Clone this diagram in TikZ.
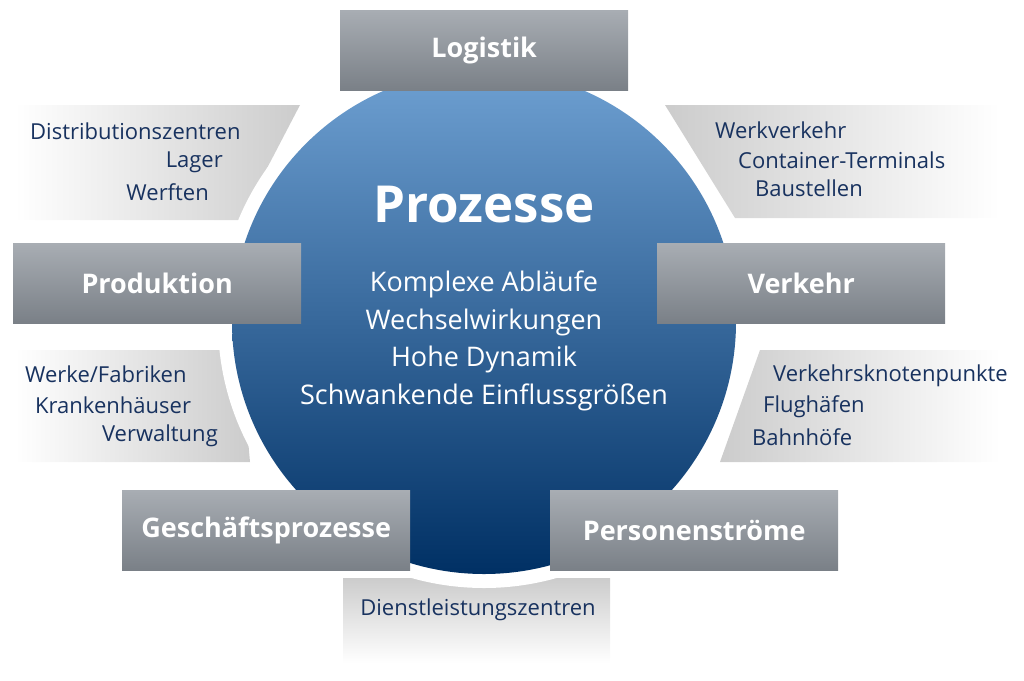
\documentclass[tikz,border=0pt]{standalone}
\usepackage{fontspec}
\setmainfont{Open Sans}
\begin{document}
\begin{tikzpicture}[x=1pt,y=-1pt,
  cat/.style={minimum width=288pt,minimum height=80pt,anchor=north west,inner sep=0pt,
    top color={rgb,255:red,168;green,173;blue,179},bottom color={rgb,255:red,122;green,128;blue,135},draw=none,text=white,
    font=\fontsize{27}{30}\selectfont\bfseries},
  lst/.style={text={rgb,255:red,24;green,50;blue,95},font=\fontsize{22}{30}\selectfont,inner sep=0pt}]
\useasboundingbox (0,0) rectangle (1024,680);
\colorlet{pg}{gray!40}
% panels
\shade[left color=white,right color=pg] (15,105) -- (300,105) -- (240,220) -- (15,220) -- cycle;
\shade[left color=pg,right color=white] (665,105) -- (1000,105) -- (1000,218) -- (735,218) -- cycle;
\shade[left color=white,right color=pg] (15,350) -- (240,350) -- (250,462) -- (15,462) -- cycle;
\shade[left color=pg,right color=white] (760,350) -- (1000,350) -- (1000,462) -- (720,462) -- cycle;
\shade[top color=pg,bottom color=white] (343,578) rectangle (610,663);
% circle
\fill[white] (484,322) circle[radius=266];
\shade[top color={rgb,255:red,110;green,160;blue,210},bottom color={rgb,255:red,0;green,48;blue,100}] (484,322) circle[radius=252];
\node[text=white,font=\fontsize{51}{55}\selectfont\bfseries] (t) at (484,205) {Prozesse};
\node[text=white,font=\fontsize{27}{37.5}\selectfont,align=center] (c) at (484,341)
 {Komplexe Abläufe\\Wechselwirkungen\\Hohe Dynamik\\Schwankende Einflussgrößen};
% boxes
\node[cat] (log) at (340,10) {Logistik};
\node[cat] (pro) at (13,243) {Produktion};
\node[cat] (ver) at (657,243) {Verkehr};
\node[cat] (ges) at (122,490) {Geschäftsprozesse};
\node[cat] (per) at (550,490) {Personenströme};
% lists
\node[lst,anchor=west] (a1) at (30,131) {Distributionszentren};
\node[lst,anchor=east] (a2) at (223,162) {Lager};
\node[lst,anchor=east] (a3) at (209,192) {Werften};
\node[lst,anchor=west] (b1) at (715,130) {Werkverkehr};
\node[lst,anchor=west] (b2) at (738,160) {Container-Terminals};
\node[lst,anchor=west] (b3) at (755,188) {Baustellen};
\node[lst,anchor=west] (c1) at (25,374) {Werke/Fabriken};
\node[lst,anchor=west] (c2) at (35,405) {Krankenhäuser};
\node[lst,anchor=east] (c3) at (218,436) {Verwaltung};
\node[lst,anchor=west] (d1) at (773,376) {Verkehrsknotenpunkte};
\node[lst,anchor=west] (d2) at (763,407) {Flughäfen};
\node[lst,anchor=west] (d3) at (752,437) {Bahnhöfe};
\node[lst] (e1) at (478,610) {Dienstleistungszentren};
\end{tikzpicture}
\end{document}
